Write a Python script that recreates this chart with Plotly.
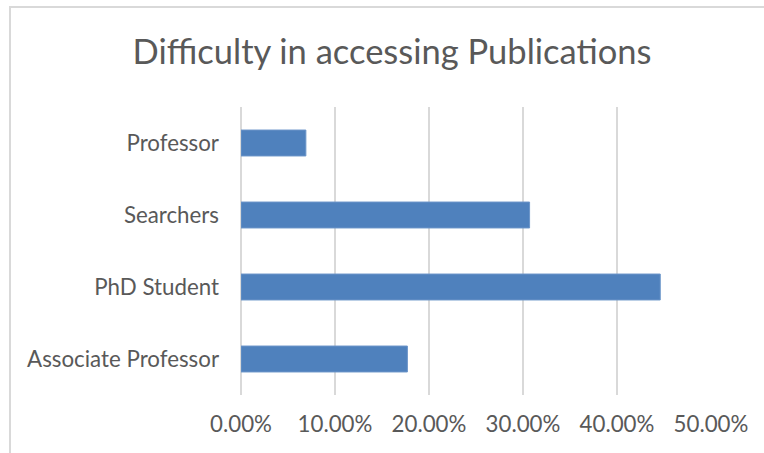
import plotly.graph_objects as go

categories = ["Associate Professor", "PhD Student", "Searchers", "Professor"]
values = [0.177, 0.446, 0.307, 0.069]
tick_vals = [0, 0.1, 0.2, 0.3, 0.4, 0.5]
tick_text = ["0.00%", "10.00%", "20.00%", "30.00%", "40.00%", "50.00%"]
title_text = "Difficulty in accessing Publications"

W, H = 764, 453
FONT = "Lato"
GREY = "#595959"

fig = go.Figure(go.Bar(
    y=categories, x=values, orientation="h",
    marker=dict(color="#4f81bd", line=dict(color="#6b95c9", width=1)),
    width=0.36,
))

fig.update_layout(
    width=W, height=H,
    margin=dict(l=241, r=53, t=107, b=58, pad=0),
    paper_bgcolor="white", plot_bgcolor="white",
    showlegend=False,
    title=dict(text=title_text, x=392 / W, xanchor="center",
               y=1 - 52 / H, yanchor="middle", yref="container",
               font=dict(family=FONT, size=34.5, color=GREY)),
    font=dict(family=FONT, color=GREY),
    bargap=0.64,
)
fig.update_xaxes(range=[0, 0.5], tickvals=tick_vals, ticktext=tick_text,
                 showgrid=True, gridcolor="#d9d9d9", gridwidth=1.5,
                 zeroline=True, zerolinecolor="#d9d9d9", zerolinewidth=2,
                 showline=False, ticks="",
                 ticklabelstandoff=14,
                 tickfont=dict(family=FONT, size=22.3, color=GREY))
fig.update_yaxes(showgrid=False, zeroline=False, showline=False, ticks="",
                 ticklabelstandoff=21,
                 tickfont=dict(family=FONT, size=22.3, color=GREY))

# chart frame (partly cut off at right and bottom)
fig.add_shape(type="rect", xref="paper", yref="paper",
              x0=(10 - 241) / (W - 241 - 53), x1=(780 - 241) / (W - 241 - 53),
              y0=1 + (107 - 470) / (H - 107 - 58), y1=1 + (107 - 7) / (H - 107 - 58),
              line=dict(color="#d9d9d9", width=2), layer="below")

fig.write_html("out.html", config={"displayModeBar": False},
               post_script="document.body.style.margin='0px';document.body.style.overflow='hidden';")
